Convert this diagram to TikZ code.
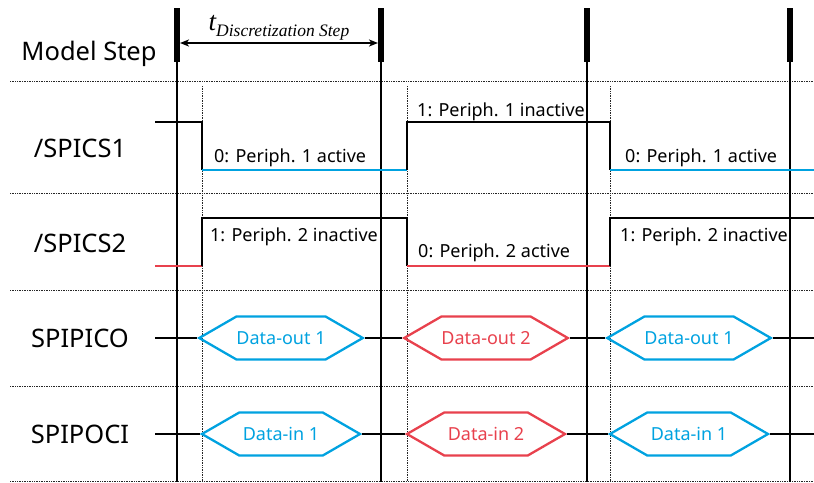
\documentclass[tikz,border=0pt]{standalone}
\usepackage{fontspec}
\setmainfont{Noto Sans}
\newfontfamily\tfont{Liberation Serif}
\usetikzlibrary{arrows.meta,positioning,calc,shapes.symbols}
\definecolor{act}{HTML}{00A2E0}
\definecolor{alt}{HTML}{E8414D}

\begin{document}
\begin{tikzpicture}[x=1pt, y=-1pt, >={Stealth[length=9pt,width=7pt,inset=2.5pt]}, font=\fontsize{18}{22}\selectfont,
  grid/.style={densely dotted, line width=0.7pt, black!85},
  tickmark/.style={line width=6pt},
  wire/.style={line width=2.2pt},
  signame/.style={font=\fontsize{25.5}{30}\selectfont, anchor=base},
  note/.style={anchor=base west, inner sep=0pt},
  pkt/.style={draw=#1, text=#1, line width=2.3pt, signal, signal to=west and east,
    signal pointer angle=60, minimum width=158pt, minimum height=43pt, inner sep=0pt}]
  \useasboundingbox (0,0) rectangle (814,482);
  % grid
  \draw[grid] (10,81) -- (814,81);
  \draw[grid] (10,193) -- (814,193);
  \draw[grid] (10,290) -- (814,290);
  \draw[grid] (10,386) -- (814,386);
  \draw[grid] (10,481) -- (814,481);
  \draw[grid] (202,86) -- (202,482);
  \draw[grid] (407,86) -- (407,482);
  \draw[grid] (610,86) -- (610,482);
  % model steps
  \coordinate (m1) at (177,8);
  \coordinate (m2) at (381,8);
  \coordinate (m3) at (587,8);
  \coordinate (m4) at (790,8);
  \draw[tickmark] (m1) -- ++(0,54);
  \draw[tickmark] (m2) -- ++(0,54);
  \draw[tickmark] (m3) -- ++(0,54);
  \draw[tickmark] (m4) -- ++(0,54);
  \draw[wire] (m1) -- (m1 |- 0,482);
  \draw[wire] (m2) -- (m2 |- 0,482);
  \draw[wire] (m3) -- (m3 |- 0,482);
  \draw[wire] (m4) -- (m4 |- 0,482);
  \draw[<->, line width=2.2pt] ([xshift=3pt]m1 |- 0,43) -- ([xshift=-3pt]m2 |- 0,43);
  \node[anchor=base, inner sep=0pt] (tstep) at (279,30)
    {\tfont\itshape\fontsize{27}{30}\selectfont t\raisebox{-6pt}{\fontsize{17.5}{20}\selectfont Discretization Step}};
  % signal names
  \node[signame] (model) at (89,60) {Model Step};
  \node[signame] (cs1) at (80,157) {/SPICS1};
  \node[signame] (cs2) at (80,252) {/SPICS2};
  \node[signame] (pico) at (80,347) {SPIPICO};
  \node[signame] (poci) at (80,443) {SPIPOCI};
  % /SPICS1
  \draw[wire] (155,122) -- (202,122) -- (202,170);
  \draw[wire, act] (202,170) -- (407,170);
  \draw[wire] (407,170) -- (407,122) -- (610,122) -- (610,170);
  \draw[wire, act] (610,170) -- (814,170);
  \node[note] (cs1a) at (214,162) {0: Periph. 1 active};
  \node[note] (cs1b) at (417,116) {1: Periph. 1 inactive};
  \node[note] (cs1c) at (625,162) {0: Periph. 1 active};
  % /SPICS2
  \draw[wire, alt] (155,266) -- (202,266);
  \draw[wire] (202,266) -- (202,218) -- (407,218) -- (407,266);
  \draw[wire, alt] (407,266) -- (610,266);
  \draw[wire] (610,266) -- (610,218) -- (814,218);
  \node[note] (cs2a) at (210,241) {1: Periph. 2 inactive};
  \node[note] (cs2b) at (418,257) {0: Periph. 2 active};
  \node[note] (cs2c) at (620,241) {1: Periph. 2 inactive};
  % SPIPICO
  \node[pkt=act] (out1) at (281,338) {Data-out 1};
  \node[pkt=alt] (out2) at (486,338) {Data-out 2};
  \node[pkt=act] (out3) at (689,338) {Data-out 1};
  \draw[wire] (155,338) -- (out1.west);
  \draw[wire] (out1.east) -- (out2.west);
  \draw[wire] (out2.east) -- (out3.west);
  \draw[wire] (out3.east) -- (814,338);
  % SPIPOCI
  \node[pkt=act] (in1) at (281,434) {Data-in 1};
  \node[pkt=alt] (in2) at (486,434) {Data-in 2};
  \node[pkt=act] (in3) at (689,434) {Data-in 1};
  \draw[wire] (155,434) -- (in1.west);
  \draw[wire] (in1.east) -- (in2.west);
  \draw[wire] (in2.east) -- (in3.west);
  \draw[wire] (in3.east) -- (814,434);
\end{tikzpicture}
\end{document}
